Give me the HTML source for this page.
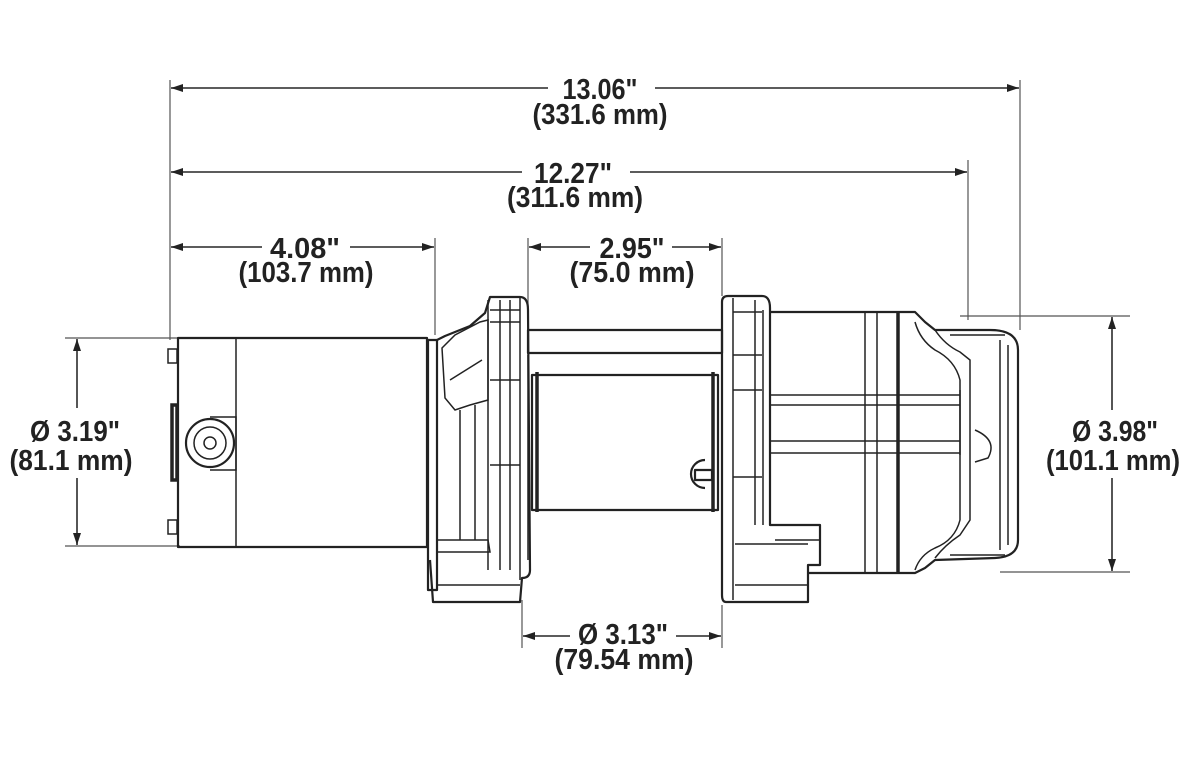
<!DOCTYPE html>
<html><head><meta charset="utf-8"><style>
html,body{margin:0;padding:0;background:#fff;}
svg{display:block;}
text{font-family:"Liberation Sans Narrow","Liberation Sans",sans-serif;font-weight:bold;font-size:29px;fill:#222;text-anchor:middle;}
.d{stroke:#444;stroke-width:1.8;fill:none;}
.e{stroke:#555;stroke-width:1.2;fill:none;}
.o{stroke:#222;stroke-width:2.2;fill:none;stroke-linejoin:round;}
.t{stroke:#222;stroke-width:1.5;fill:none;}
.k{stroke:#222;stroke-width:3.5;fill:none;}
</style></head><body>
<svg width="1200" height="775" viewBox="0 0 1200 775" xmlns="http://www.w3.org/2000/svg">
<defs>
<marker id="a" viewBox="0 0 12 8" refX="12" refY="4" markerWidth="12" markerHeight="8" orient="auto" markerUnits="userSpaceOnUse"><path d="M0,0 L12,4 L0,8 Z" fill="#222"/></marker>
</defs>
<rect width="1200" height="775" fill="#fff"/>
<path class="e" d="M170,80 V340 M1020,80 V330 M968,160 V320 M435,238 V335 M528,238 V330 M722,238 V296"/>
<path class="e" d="M65,338 H180 M65,546 H180 M960,316 H1130 M1000,572 H1130 M522,600 V648 M722,605 V648"/>
<path class="d" marker-end="url(#a)" d="M548,88 H171"/><path class="d" marker-end="url(#a)" d="M655,88 H1019"/>
<path class="d" marker-end="url(#a)" d="M522,172 H171"/><path class="d" marker-end="url(#a)" d="M630,172 H967"/>
<path class="d" marker-end="url(#a)" d="M262,247 H171"/><path class="d" marker-end="url(#a)" d="M350,247 H434"/>
<path class="d" marker-end="url(#a)" d="M590,247 H529"/><path class="d" marker-end="url(#a)" d="M672,247 H721"/>
<path class="d" marker-end="url(#a)" d="M570,636 H523"/><path class="d" marker-end="url(#a)" d="M676,636 H721"/>
<path class="d" marker-end="url(#a)" d="M77,408 V339"/><path class="d" marker-end="url(#a)" d="M77,478 V545"/>
<path class="d" marker-end="url(#a)" d="M1112,410 V317"/><path class="d" marker-end="url(#a)" d="M1112,478 V571"/>
<text x="600" y="99" textLength="75" lengthAdjust="spacingAndGlyphs">13.06"</text><text x="600" y="124" textLength="135" lengthAdjust="spacingAndGlyphs">(331.6 mm)</text>
<text x="573" y="183" textLength="78" lengthAdjust="spacingAndGlyphs">12.27"</text><text x="575" y="207" textLength="136" lengthAdjust="spacingAndGlyphs">(311.6 mm)</text>
<text x="305" y="258" textLength="70" lengthAdjust="spacingAndGlyphs">4.08"</text><text x="306" y="282" textLength="135" lengthAdjust="spacingAndGlyphs">(103.7 mm)</text>
<text x="632" y="258" textLength="65" lengthAdjust="spacingAndGlyphs">2.95"</text><text x="632" y="282" textLength="125" lengthAdjust="spacingAndGlyphs">(75.0 mm)</text>
<text x="75" y="441" textLength="90" lengthAdjust="spacingAndGlyphs">Ø 3.19"</text><text x="71" y="470" textLength="123" lengthAdjust="spacingAndGlyphs">(81.1 mm)</text>
<text x="1115" y="441" textLength="86" lengthAdjust="spacingAndGlyphs">Ø 3.98"</text><text x="1113" y="470" textLength="134" lengthAdjust="spacingAndGlyphs">(101.1 mm)</text>
<text x="623" y="644" textLength="90" lengthAdjust="spacingAndGlyphs">Ø 3.13"</text><text x="624" y="669" textLength="139" lengthAdjust="spacingAndGlyphs">(79.54 mm)</text>
<rect class="o" x="178" y="338" width="249" height="209"/>
<line class="t" x1="236" y1="338" x2="236" y2="547"/>
<rect class="k" x="172" y="405" width="5" height="75"/>
<rect class="t" x="168" y="349" width="9" height="14"/><rect class="t" x="168" y="520" width="9" height="14"/>
<path class="t" d="M210,417 H236 V470 H210"/>
<circle class="o" cx="210" cy="443" r="24"/><circle class="t" cx="210" cy="443" r="16"/><circle class="t" cx="210" cy="443" r="6"/>
<path class="o" d="M428,340 H437 V590 H428 Z"/>
<path class="o" d="M437,340 L445,336 L470,326 L485,313 L490,297 H520 Q528,297 528,310 L530,570 Q530,578 522,578 L520,602 H433 L430,560"/>
<path class="t" d="M442,348 L455,335 L480,322 L488,320 V400 L470,405 L455,410 L445,398 Z"/>
<path class="t" d="M460,410 V540 M475,405 V540 M488,300 V570 M500,300 V570 M510,300 V570 M520,297 V580"/>
<path class="t" d="M436,540 H488 L490,552 H436 M436,585 H520 M490,310 H520 M490,322 H520 M490,380 H520 M490,465 H520 M450,380 L482,360"/>
<rect class="o" x="528" y="330" width="194" height="23"/>
<rect class="o" x="532" y="375" width="186" height="135"/>
<line class="k" x1="537" y1="372" x2="537" y2="512"/><line class="k" x1="713" y1="372" x2="713" y2="512"/>
<path class="t" d="M528,355 V560 M722,355 V560"/>
<path class="o" d="M705,460 A9,9 0 1,0 705,488 M695,470 H712 V480 H695 Z"/>
<path class="o" d="M728,296 H762 Q770,296 770,308 V525 H820 V565 H808 V602 H726 Q722,602 722,595 V302 Q722,296 728,296 Z"/>
<path class="t" d="M733,298 V600 M755,300 V525 M763,310 V525 M733,312 H762 M733,355 H762 M733,390 H762 M733,477 H762 M735,544 H808 M735,585 H808 M775,540 H820"/>
<path class="o" d="M770,312 H915 L925,322 L935,330 L990,330 Q1018,330 1018,350 V540 Q1018,557 995,558 L935,560 L925,568 L915,573 H808"/>
<path class="t" d="M770,395 H960 M770,405 H960 M770,441 H960 M770,453 H960 M865,313 V572 M877,313 V572 M960,390 V455"/>
<line class="k" x1="898" y1="313" x2="898" y2="572"/>
<path class="t" d="M915,322 Q920,340 935,350 Q955,360 960,380 V520 Q955,540 935,548 Q920,555 915,570"/>
<path class="t" d="M935,330 Q945,345 960,352 L970,360 V520 L960,535 Q945,545 935,558 M950,335 H1005 M950,555 H1005 M1000,340 V550 M1008,345 V545"/>
<path class="t" d="M975,430 Q998,440 988,458 L975,462"/>
</svg>
</body></html>
